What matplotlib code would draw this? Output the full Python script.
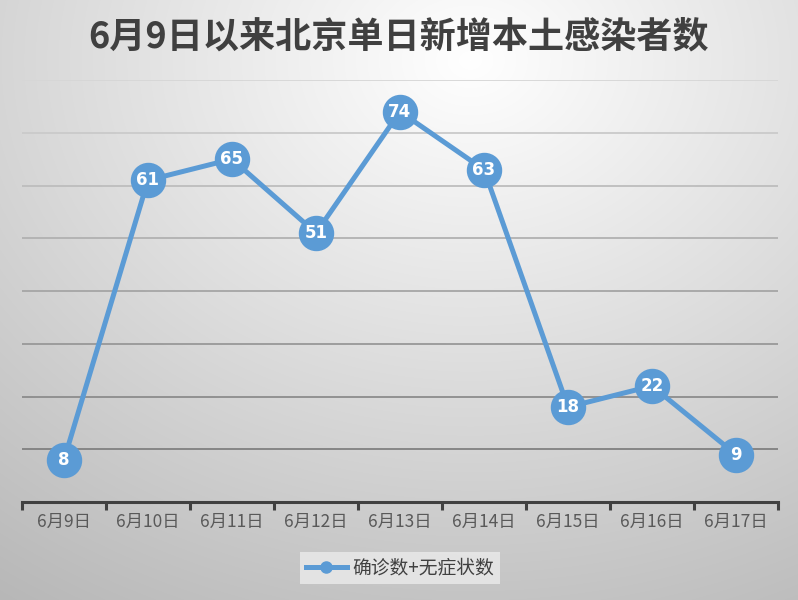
import numpy as np
import matplotlib
matplotlib.use("Agg")
import matplotlib.pyplot as plt
from matplotlib.lines import Line2D

plt.rcParams['font.family'] = ['Noto Sans CJK SC', 'DejaVu Sans']

dates = ["6月9日", "6月10日", "6月11日", "6月12日", "6月13日",
         "6月14日", "6月15日", "6月16日", "6月17日"]
cases = [8, 61, 65, 51, 74, 63, 18, 22, 9]
series_name = "确诊数+无症状数"
title = "6月9日以来北京单日新增本土感染者数"
grid_values = [10, 20, 30, 40, 50, 60, 70, 80]

W, H = 798, 600
fig = plt.figure(figsize=(W / 100, H / 100), dpi=100)

# background radial gradient
bg = fig.add_axes([0, 0, 1, 1], zorder=-10)
yy, xx = np.mgrid[0:H, 0:W]
r = np.sqrt(((xx - 470) / 700.0) ** 2 + ((yy - 60) / 560.0) ** 2)
val = 1.0 - 0.24 * np.clip(r, 0, 1.2)
val = np.clip(val, 0.72, 1.0)
img = np.dstack([val, val, val])
bg.imshow(img, aspect='auto', extent=[0, 1, 0, 1], origin='upper')
bg.set_xlim(0, 1); bg.set_ylim(0, 1)
bg.axis('off')

ax = fig.add_axes([22 / W, 1 - 502 / H, 756 / W, 422 / H])
ax.patch.set_alpha(0)
x = np.arange(len(dates))
ax.set_xlim(-0.5, len(dates) - 0.5)
ax.set_ylim(0, 80)

gcols = np.linspace(0.84, 0.50, len(grid_values))[::-1]
for g, c in zip(grid_values, gcols):
    ax.axhline(g, color=(c, c, c), lw=1.3, zorder=1)

ax.plot(x, cases, color='#5B9BD5', lw=3.6, marker='o', markersize=24.5,
        markerfacecolor='#5B9BD5', markeredgecolor='#5B9BD5', zorder=3,
        solid_capstyle='round')
for xi, v in zip(x, cases):
    ax.text(xi, v, str(v), color='white', fontsize=12, fontweight='bold',
            ha='center', va='center', zorder=4, family='DejaVu Sans')

for s in ['top', 'right', 'left']:
    ax.spines[s].set_visible(False)
ax.spines['bottom'].set_color('#404040')
ax.spines['bottom'].set_linewidth(2.2)
ax.set_yticks([])
ax.set_xticks(np.arange(len(dates) + 1) - 0.5, minor=True)
ax.set_xticks(x)
ax.set_xticklabels(dates, fontsize=12.5, color='#595959')
ax.tick_params(axis='x', which='major', length=0, pad=8)
ax.tick_params(axis='x', which='minor', length=6, width=2.2, color='#404040')

fig.text(0.5, 1 - 37 / H, title, ha='center', va='center', fontsize=26,
         fontweight='bold', color='#404040')

handle = Line2D([0], [0], color='#5B9BD5', lw=3.6, marker='o', markersize=8,
                markerfacecolor='#5B9BD5', markeredgecolor='#5B9BD5')
leg = fig.legend([handle], [series_name], loc='center',
                 bbox_to_anchor=(400 / W, 1 - 568 / H), frameon=True,
                 fontsize=13.5, handlelength=2.2, borderpad=0.3,
                 handletextpad=0.3, fancybox=False)
leg.get_frame().set_facecolor('#ebebeb')
leg.get_frame().set_edgecolor('none')
for t in leg.get_texts():
    t.set_color('#404040')

fig.savefig('out.png', dpi=100)
